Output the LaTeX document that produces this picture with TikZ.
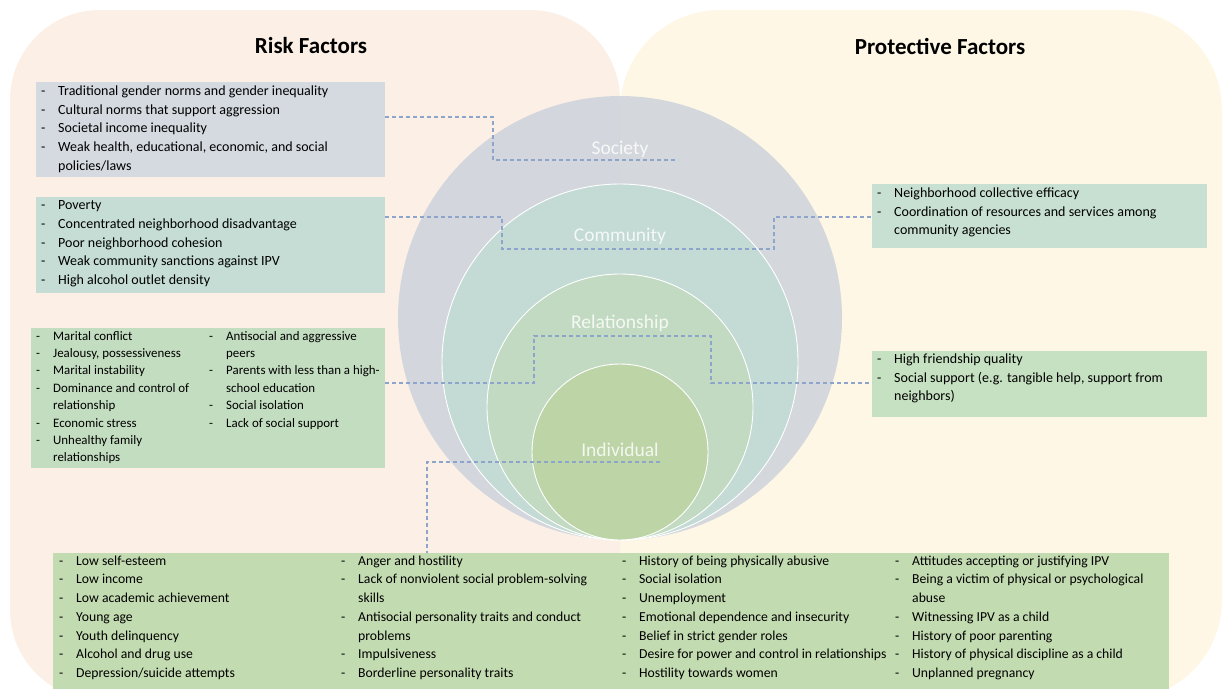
\documentclass[tikz,border=0pt]{standalone}
\usepackage{fontspec}
\setmainfont{Carlito}
\definecolor{leftbg}{HTML}{FBEFE6}
\definecolor{rightbg}{HTML}{FEF7E5}
\definecolor{socC}{HTML}{CBD2DC}
\definecolor{comC}{HTML}{C3DBD4}
\definecolor{relC}{HTML}{C3DBC1}
\definecolor{indC}{HTML}{BDD4A5}
\definecolor{socbox}{HTML}{D5D9E0}
\definecolor{combox}{HTML}{C5DDD4}
\definecolor{relbox}{HTML}{C3DDC0}
\definecolor{pcombox}{HTML}{C8E0D1}
\definecolor{prelbox}{HTML}{C6E1C1}
\definecolor{indbox}{HTML}{C3DBB1}
\definecolor{connblue}{HTML}{8DA5CB}
\newcommand{\lidash}[1]{\makebox[17pt][l]{-}#1}
\newcommand{\licont}[1]{\hspace*{17pt}#1}
\begin{document}
\begin{tikzpicture}[x=1pt,y=-1pt,
  bx/.style={rectangle, draw=none, anchor=north west, inner sep=0pt, outer sep=0pt},
  lst/.style={anchor=north west, inner sep=0pt, align=left, font=\fontsize{14}{18.7}\selectfont, text=black},
  lstind/.style={lst, font=\fontsize{13.7}{18.7}\selectfont},
  lstsm/.style={lst, font=\fontsize{12.9}{17.4}\selectfont},
  conn/.style={draw=connblue, line width=1.1pt, dash pattern=on 4pt off 3pt},
  ring/.style={circle, draw=white, line width=0.9pt, inner sep=0pt, outer sep=0pt, fill opacity=0.9},
  lvl/.style={text=white, text opacity=0.82, font=\fontsize{19.5}{21}\selectfont, inner sep=0pt},
  ttl/.style={font=\fontsize{23}{25}\selectfont\bfseries, text=black, inner sep=0pt}]
\useasboundingbox (0,0) rectangle (1225,688);
% backgrounds
\fill[leftbg, rounded corners=90pt] (10,10) rectangle (620,700);
\fill[rightbg, rounded corners=100pt] (620,10) rectangle (1222,700);
% titles
\node[ttl] (riskT) at (311,46) {Risk Factors};
\node[ttl] (protT) at (940,46) {Protective Factors};
% circles
\node[circle, fill=socC, fill opacity=0.82, inner sep=0pt, minimum size=444pt] (society) at (620,318) {};
\node[ring, fill=comC, minimum size=356pt] (community) at (620,362) {};
\node[ring, fill=relC, minimum size=266pt] (relationship) at (620,407) {};
\node[ring, fill=indC, minimum size=176pt] (individual) at (620,452) {};
% boxes
\node[bx, fill=socbox, minimum width=349pt, minimum height=95pt] (socB) at (36,82) {};
\node[bx, fill=combox, minimum width=349pt, minimum height=96pt] (comB) at (36,197) {};
\node[bx, fill=relbox, minimum width=354pt, minimum height=140pt] (relB) at (31,328) {};
\node[bx, fill=pcombox, minimum width=335pt, minimum height=64pt] (pcomB) at (872,184) {};
\node[bx, fill=prelbox, minimum width=335pt, minimum height=66pt] (prelB) at (872,351) {};
\node[bx, fill=indbox, minimum width=1116pt, minimum height=136pt] (indB) at (53,553) {};
% lists
\node[lst] (socL) at (41,85.5) {\lidash{Traditional gender norms and gender inequality}\\
\lidash{Cultural norms that support aggression}\\
\lidash{Societal income inequality}\\
\lidash{Weak health, educational, economic, and social}\\
\licont{policies/laws}};
\node[lst] (comL) at (41,200.5) {\lidash{Poverty}\\
\lidash{Concentrated neighborhood disadvantage}\\
\lidash{Poor neighborhood cohesion}\\
\lidash{Weak community sanctions against IPV}\\
\lidash{High alcohol outlet density}};
\node[lstsm] (relL1) at (36,331) {\lidash{Marital conflict}\\
\lidash{Jealousy, possessiveness}\\
\lidash{Marital instability}\\
\lidash{Dominance and control of}\\
\licont{relationship}\\
\lidash{Economic stress}\\
\lidash{Unhealthy family}\\
\licont{relationships}};
\node[lstsm] (relL2) at (209,331) {\lidash{Antisocial and aggressive}\\
\licont{peers}\\
\lidash{Parents with less than a high-}\\
\licont{school education}\\
\lidash{Social isolation}\\
\lidash{Lack of social support}};
\node[lst] (pcomL) at (877,187.5) {\lidash{Neighborhood collective efficacy}\\
\lidash{Coordination of resources and services among}\\
\licont{community agencies}};
\node[lst] (prelL) at (877,353.5) {\lidash{High friendship quality}\\
\lidash{Social support (e.g. tangible help, support from}\\
\licont{neighbors)}};
\node[lstind] (indL1) at (59,555.5) {\lidash{Low self-esteem}\\
\lidash{Low income}\\
\lidash{Low academic achievement}\\
\lidash{Young age}\\
\lidash{Youth delinquency}\\
\lidash{Alcohol and drug use}\\
\lidash{Depression/suicide attempts}};
\node[lstind] (indL2) at (341,555.5) {\lidash{Anger and hostility}\\
\lidash{Lack of nonviolent social problem-solving}\\
\licont{skills}\\
\lidash{Antisocial personality traits and conduct}\\
\licont{problems}\\
\lidash{Impulsiveness}\\
\lidash{Borderline personality traits}};
\node[lstind] (indL3) at (622,555.5) {\lidash{History of being physically abusive}\\
\lidash{Social isolation}\\
\lidash{Unemployment}\\
\lidash{Emotional dependence and insecurity}\\
\lidash{Belief in strict gender roles}\\
\lidash{Desire for power and control in relationships}\\
\lidash{Hostility towards women}};
\node[lstind] (indL4) at (895,555.5) {\lidash{Attitudes accepting or justifying IPV}\\
\lidash{Being a victim of physical or psychological}\\
\licont{abuse}\\
\lidash{Witnessing IPV as a child}\\
\lidash{History of poor parenting}\\
\lidash{History of physical discipline as a child}\\
\lidash{Unplanned pregnancy}};
% connector end points
\coordinate (socS) at (socB.east |- 0,117);
\coordinate (socE) at (678,160);
\coordinate (comS) at (comB.east |- 0,217);
\coordinate (comE) at (pcomB.west |- 0,217);
\coordinate (relS) at (relB.east |- 0,383);
\coordinate (relE) at (prelB.west |- 0,383);
\coordinate (indS) at (660,462);
\coordinate (indE) at (indB.north -| 427,0);
% connectors
\draw[conn] (socS) -| (493,160) -- (socE);
\draw[conn] (comS) -| (502,249) -| (774,217) -- (comE);
\draw[conn] (relS) -| (534,336) -| (711,383) -- (relE);
\draw[conn] (indS) -| (indE);
% level labels
\node[lvl] (socLbl) at (620,149) {Society};
\node[lvl] (comLbl) at (620,236) {Community};
\node[lvl] (relLbl) at (620,323) {Relationship};
\node[lvl] (indLbl) at (620,450) {Individual};
\end{tikzpicture}
\end{document}
